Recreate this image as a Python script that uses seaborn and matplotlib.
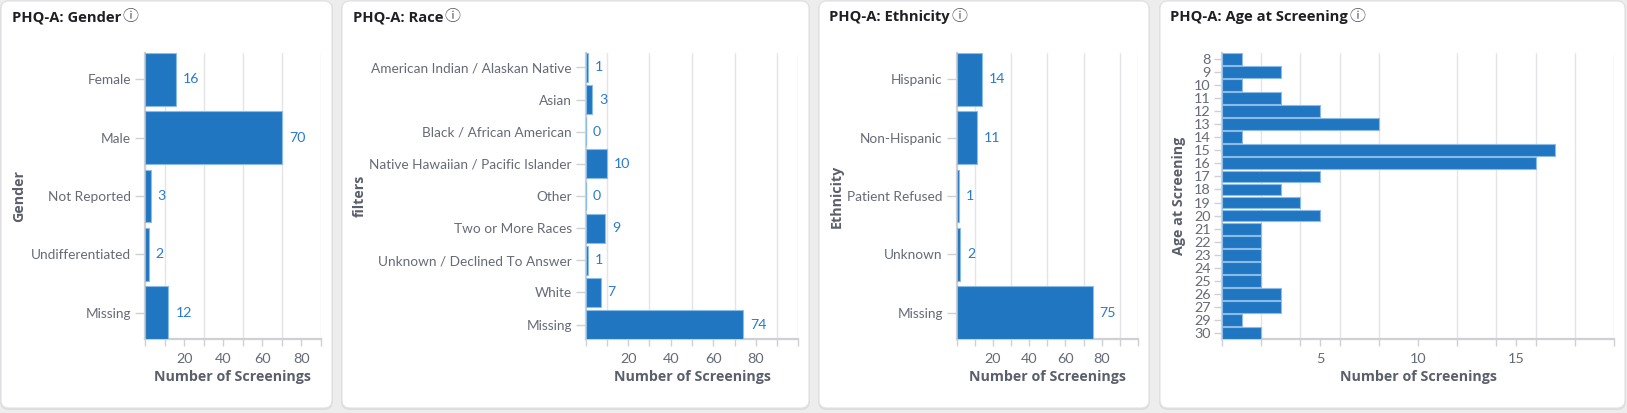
import numpy as np
import pandas as pd
import matplotlib
matplotlib.use("Agg")
import matplotlib.pyplot as plt
import seaborn as sns
from matplotlib.patches import FancyBboxPatch
from matplotlib.ticker import MultipleLocator, FixedLocator, FixedFormatter

# ---------------- data ----------------
gender_cats = ["Female", "Male", "Not Reported", "Undifferentiated", "Missing"]
gender_vals = [16, 70, 3, 2, 12]

race_cats = ["American Indian / Alaskan Native", "Asian", "Black / African American",
             "Native Hawaiian / Pacific Islander", "Other", "Two or More Races",
             "Unknown / Declined To Answer", "White", "Missing"]
race_vals = [1, 3, 0, 10, 0, 9, 1, 7, 74]

eth_cats = ["Hispanic", "Non-Hispanic", "Patient Refused", "Unknown", "Missing"]
eth_vals = [14, 11, 1, 2, 75]

age_cats = ["8", "9", "10", "11", "12", "13", "14", "15", "16", "17", "18", "19", "20",
            "21", "22", "23", "24", "25", "26", "27", "29", "30"]
age_vals = [1, 3, 1, 3, 5, 8, 1, 17, 16, 5, 3, 4, 5, 2, 2, 2, 2, 2, 3, 3, 1, 2]

titles = ["PHQ-A: Gender", "PHQ-A: Race", "PHQ-A: Ethnicity", "PHQ-A: Age at Screening"]
ylabels = ["Gender", "filters", "Ethnicity", "Age at Screening"]
xlabel = "Number of Screenings"
count_ticks = [20, 40, 60, 80]
age_ticks = [5, 10, 15]

# ---------------- style ----------------
sns.set_theme(style="white")
FONT = ["Lato", "DejaVu Sans"]
BOLD_FONT = ["Open Sans", "DejaVu Sans"]
plt.rcParams["font.family"] = FONT

W, H = 1627, 413
fig = plt.figure(figsize=(W / 100, H / 100), dpi=100)
fig.patch.set_facecolor("#ededee")

BAR = "#2176c2"
BAR_EDGE = "#8cbbe6"
LABEL_BLUE = "#2b7bcb"
TICK_GRAY = "#676a77"
TITLE_GRAY = "#5b5f6c"
AXIS_GRAY = "#cfd0d3"
GRID_GRAY = "#e4e5e7"

bg = fig.add_axes([0, 0, 1, 1], zorder=0)
bg.set_xlim(0, W)
bg.set_ylim(H, 0)
bg.axis("off")
cards = [(1, 1, 332, 408), (342, 1, 809, 408), (819, 1, 1149, 408), (1160, 1, 1625, 408)]
for (x0, y0, x1, y1) in cards:
    sh = FancyBboxPatch((x0 - 1, y0 - 0.5), x1 - x0 + 2, y1 - y0 + 2.5,
                        boxstyle="round,pad=0,rounding_size=9",
                        fc="#dcdcde", ec="none")
    bg.add_patch(sh)
    card = FancyBboxPatch((x0, y0), x1 - x0, y1 - y0,
                          boxstyle="round,pad=0,rounding_size=8",
                          fc="white", ec="#e2e2e4", lw=0.8)
    bg.add_patch(card)

panels = [
    dict(cats=gender_cats, vals=gender_vals, x0=145, x1=321, xmax=90, step=10,
         ticks=count_ticks, ylab_x=19, title_x=12, labels=True),
    dict(cats=race_cats, vals=race_vals, x0=585.7, x1=798.3, xmax=100, step=10,
         ticks=count_ticks, ylab_x=360, title_x=353, labels=True),
    dict(cats=eth_cats, vals=eth_vals, x0=956.7, x1=1138, xmax=100, step=10,
         ticks=count_ticks, ylab_x=837, title_x=829, labels=True),
    dict(cats=age_cats, vals=age_vals, x0=1222, x1=1614, xmax=20, step=2,
         ticks=age_ticks, ylab_x=1179, title_x=1170, labels=False),
]
Y_TOP, Y_BOT = 53, 339
TICK_FS = 9.8

for i, p in enumerate(panels):
    ax = fig.add_axes([p["x0"] / W, (H - Y_BOT) / H, (p["x1"] - p["x0"]) / W,
                       (Y_BOT - Y_TOP) / H], zorder=2)
    ax.patch.set_alpha(0)
    df = pd.DataFrame({"category": p["cats"], "count": p["vals"]})
    sns.barplot(data=df, x="count", y="category", orient="h", color=BAR,
                saturation=1, width=0.9, edgecolor=BAR_EDGE, linewidth=0.8,
                ax=ax, zorder=3)
    n = len(p["cats"])
    ax.set_ylim(n - 1 + 0.45, -0.45)
    ax.set_xlim(0, p["xmax"])

    ax.xaxis.set_minor_locator(MultipleLocator(p["step"]))
    ax.xaxis.set_major_locator(FixedLocator(p["ticks"]))
    ax.xaxis.set_major_formatter(FixedFormatter([str(t) for t in p["ticks"]]))
    ax.grid(False)
    ax.grid(True, which="minor", axis="x", color=GRID_GRAY, lw=1, zorder=0)
    ax.set_axisbelow(True)
    ax.tick_params(axis="x", which="both", length=5, color=AXIS_GRAY, width=1,
                   labelsize=10.4, labelcolor=TICK_GRAY, pad=5, bottom=True)
    ax.tick_params(axis="y", which="major", length=7, color=AXIS_GRAY, width=1,
                   labelsize=TICK_FS, labelcolor=TICK_GRAY, pad=3, left=True)
    if not p["labels"]:
        ax.tick_params(axis="y", labelsize=10.4, length=6, pad=2)

    for s in ["top", "right"]:
        ax.spines[s].set_visible(False)
    for s in ["left", "bottom"]:
        ax.spines[s].set_color(AXIS_GRAY)
        ax.spines[s].set_linewidth(1.6)

    if p["labels"]:
        ax.bar_label(ax.containers[0], padding=5, color=LABEL_BLUE, fontsize=10.2)

    ax.set_xlabel(xlabel, fontsize=10.3, fontweight="bold", color=TITLE_GRAY,
                  family=BOLD_FONT)
    ax.xaxis.set_label_coords(0.5, -(377 - Y_BOT) / (Y_BOT - Y_TOP))
    ax.xaxis.label.set_verticalalignment("center")
    ax.set_ylabel(ylabels[i], fontsize=10.3, fontweight="bold", color=TITLE_GRAY,
                  family=BOLD_FONT)
    ax.yaxis.set_label_coords((p["ylab_x"] - p["x0"]) / (p["x1"] - p["x0"]), 0.5)
    ax.yaxis.label.set_verticalalignment("center")

    t = bg.text(p["title_x"], 17, titles[i], fontsize=10.6, fontweight="bold",
                color="#1f1f24", ha="left", va="center", family=BOLD_FONT)
    fig.canvas.draw()
    bb = t.get_window_extent()
    bg.text(bb.x1 + 1.5, 16.5, "\u24d8", fontsize=11.5, color="#55585f",
            ha="left", va="center", family=["Noto Sans CJK SC", "DejaVu Sans"])

fig.savefig("out.png", dpi=100, facecolor=fig.get_facecolor())
